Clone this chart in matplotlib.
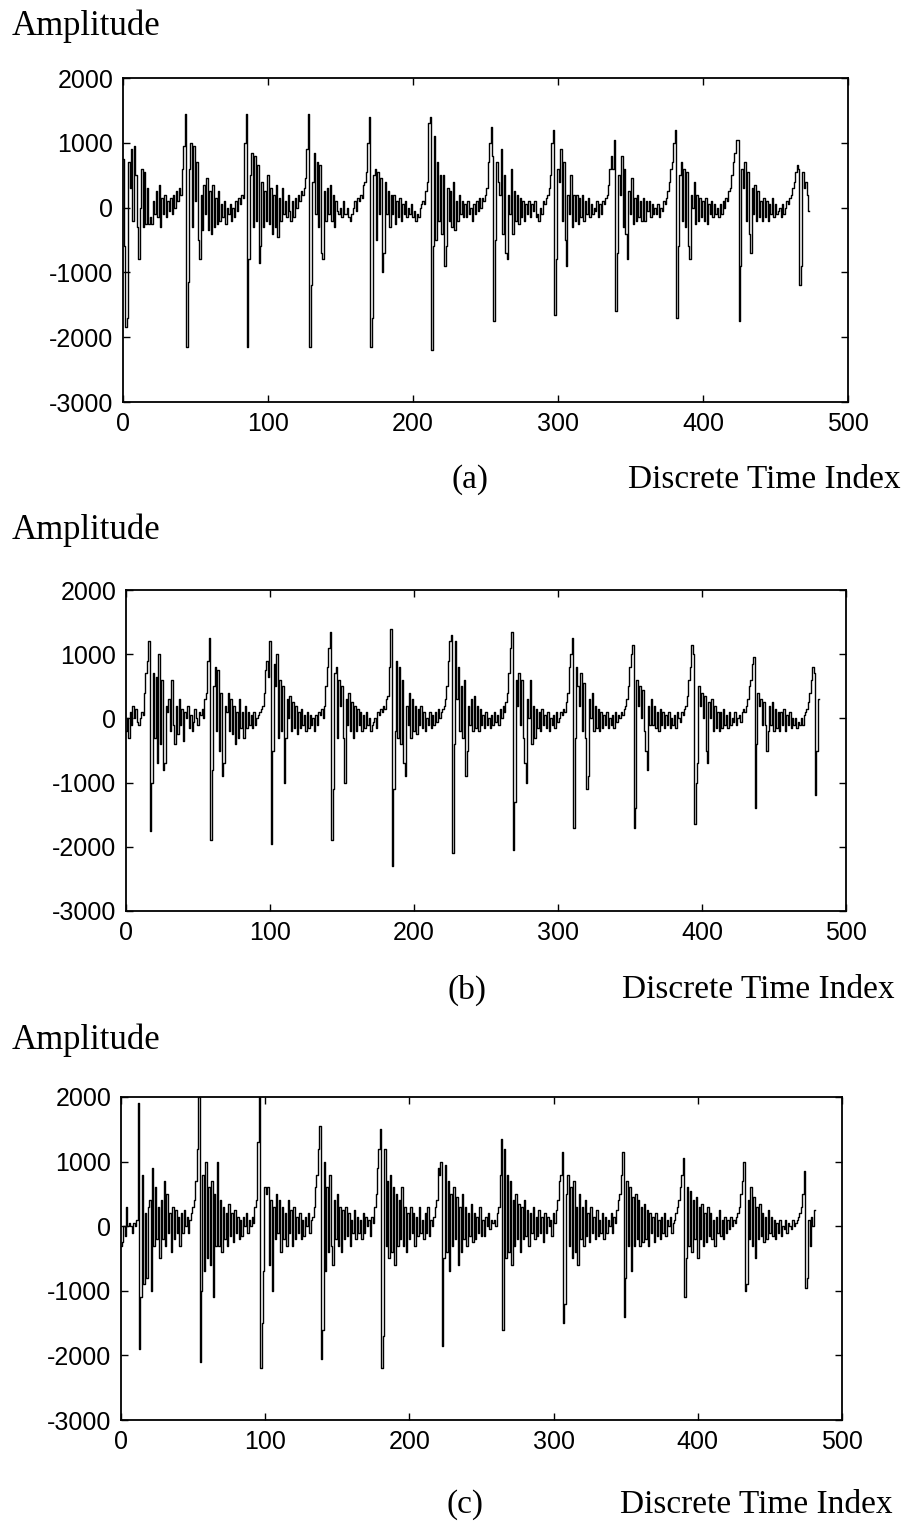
import numpy as np
import matplotlib
matplotlib.use("Agg")
import matplotlib.pyplot as plt

plt.rcParams['axes.unicode_minus'] = False

# signal (a): samples, one pitch period per block
sig_a = [750, -600,
    -1850, -1700, 700, 300, 900, -200, 950, 500, -300, -800, 0, 600, -300, 550,
    -250, 300, -250, -150, -250, 100, -100, 250, -150, 350, -300, 150, -100, 200,
    -150, 100, -50, 150, -100, 200, 0, 250, 100, 300, 200, 600, 950, 1450,
    -2150, -1150, 600, 1000, -300, 950, 100, 700, -500, -800, 200, -350, 350, -100,
    450, -350, 250, -400, 350, -300, 150, -250, 250, -200, 50, -150, 100, -250,
    0, -100, 50, -200, 0, -150, 100, -50, 150, 50, 200, 150, 1000, 1450,
    -2150, -800, 500, 850, -300, 800, -200, 650, -850, -600, 400, -300, 250, -200,
    500, -250, 300, -400, 200, -300, 350, -450, 150, -200, 300, -100, 100, -150,
    200, -50, -200, 100, -150, 150, 0, 200, 100, 250, 200, 300, 450, 900, 1450,
    -2150, -1200, 400, 850, -100, 700, -300, 650, -700, -800, 250, -200, 300, -100,
    350, -200, 200, -300, 100, -50, -100, 0, -150, 100, -100, -100, 0, -150,
    -200, -100, 0, 100, -50, 150, 100, 200, 150, 350, 400, 550, 1000, 1400,
    -2150, -1700, 500, 600, -500, 550, -100, 450, -1000, -700, 400, -100, 250, -300,
    200, -100, 200, -250, 100, -150, 150, -200, 50, -100, 100, -150, 0, -100,
    50, -150, -50, -200, -100, -150, 0, 50, 100, 50, 250, 400, 1300, 1400,
    -2200, -600, 1100, -500, 700, -200, 500, -400, 500, -900, -600, 300, -200, 250,
    -300, 400, -350, 100, -200, 200, -100, 100, -150, 50, -150, 100, -100, 0,
    -200, 50, -100, 100, -50, 150, 0, 150, 100, 200, 300, 700, 1000, 1250, 800,
    -1750, -500, 700, 400, 200, 900, -400, 500, -700, -800, 200, -100, 600, -400,
    250, -200, 200, -250, 150, -150, 100, -200, 50, -100, 100, -150, 50, -50,
    100, -150, -100, -200, 0, -100, 100, 50, 150, 200, 300, 500, 1000, 1200,
    -1650, -800, 600, 400, 900, -200, 700, -500, -900, 200, -100, 500, -300, 200,
    -200, 200, -250, 150, -150, 200, -200, 100, -100, 150, -150, 50, -100, 0,
    -50, 100, -150, 50, -100, 100, 50, 150, 200, 350, 600, 800, 600, 1050,
    -1600, -700, 500, 200, 800, -300, 600, -400, -800, 250, -100, 450, -250, 150,
    -200, 200, -150, 100, -200, 150, -200, 100, -50, 100, -150, 50, -100, 0,
    -100, 50, -150, 0, -50, 100, 50, 150, 250, 400, 600, 700, 1000, 1200,
    -1700, -600, 500, 700, -200, 600, -300, 550, -600, -800, 200, 0, 400, -250,
    200, -200, 150, -150, 100, -200, 150, -250, 50, -100, 100, -150, 50, -100,
    0, -150, 50, -100, 100, 0, 150, 100, 250, 300, 500, 700, 850, 1050, 1050,
    -1750, -900, 600, 300, 700, -200, 550, -400, -700, 300, -100, 350, -200, 250,
    -150, 100, -200, 150, -150, 100, -200, 50, -100, 150, -150, 50, -100, -50,
    0, -150, 50, -100, 0, 100, 50, 150, 200, 300, 400, 550, 650, 600,
    -1200, -900, 550, 300, 400, 200, -50]

# signal (b)
sig_b = [-200, 0, -300, 100, -100, 200, 0, 150, -50, -100, 0, 100, 50, 400, 700, 900, 1200,
    -1750, -1000, 700, -300, 650, -700, 1000, -400, 600, -800, -700, 200, 100, 300,
    -200, 600, -100, -400, 200, -250, 300, -100, 150, -350, 100, 0, 200, -150,
    50, -200, -50, 150, 0, -100, 100, 50, 150, 0, 300, 400, 900, 1250,
    -1900, -800, 500, 800, -200, 750, -500, 400, -900, -700, 200, 100, 400, -200,
    300, -250, 200, -400, 100, -300, 300, -150, 100, -300, 200, -150, 100, -100,
    50, -150, 100, -100, 0, 50, 100, 150, 200, 400, 750, 900, 650, 1200,
    -1950, -500, 850, 500, 1000, -300, 600, -200, 500, -1000, -300, 300, 0, 350,
    -200, 250, -150, 200, -250, 100, -150, 150, -100, 50, -200, 100, -150, 50,
    -100, 0, -200, 50, -100, 100, 50, 150, 0, 200, 500, 800, 1100, 1350,
    -1900, -1100, 700, 800, -300, 600, 200, 500, -300, -1000, 300, -100, 400, -200,
    250, -300, 200, -200, 150, -100, 100, -200, 50, -150, 100, -100, 0, -200,
    -100, -50, 0, -150, 100, 50, 150, 100, 200, 150, 300, 350, 800, 1400,
    -2300, -1100, -200, 900, -300, 800, -400, 600, -700, -900, 200, -100, 400, -300,
    300, -200, 200, -250, 150, -100, 200, -150, 100, -200, 0, -100, 100, -150,
    50, -100, 100, -50, 150, 0, 100, 150, 200, 300, 500, 900, 1200, 1300,
    -2100, -400, 1200, 300, 800, -200, 500, -300, 600, -900, -500, 200, -100, 300,
    -200, 350, -150, 200, -200, 150, -100, 50, -150, 100, -100, 0, -150, 50,
    -100, 100, -50, 50, -100, 150, 0, 200, 100, 250, 400, 700, 1100, 1350,
    -2050, -1300, 600, 200, 700, -100, 600, -300, -700, -1000, 300, 0, 600, -400,
    200, -300, 150, -150, 100, -200, 150, -100, 50, -150, 100, -200, 0, -100,
    50, -150, 100, -50, 0, 100, 50, 150, 100, 250, 400, 800, 1000, 1250,
    -1700, -300, 800, 500, 200, 700, -200, 550, -300, -1100, -900, 300, 0, 400,
    -200, 200, -150, 150, -200, 100, -150, 50, -100, 100, -150, 0, -100, 50,
    -150, 100, -50, 50, 0, 100, 50, 150, 200, 300, 500, 800, 1000, 1150,
    -1700, -1400, 600, 200, 500, 0, 450, -200, -500, -800, 200, -100, 300, -100,
    200, -150, 100, -200, 150, -100, 100, -150, 50, -100, 100, -150, 0, -100,
    50, -150, 100, 0, -50, 100, 50, 150, 200, 350, 600, 800, 1150, 1000,
    -1650, -1000, -700, 500, 200, 400, 0, 350, -500, -700, 250, 0, 300, -200,
    200, -150, 100, -200, 100, -150, 150, -100, 50, -150, 100, -100, 0, -50,
    100, -100, 0, 50, -50, 100, 150, 100, 200, 300, 500, 600, 850, 950,
    -1400, -400, 400, 200, 300, -100, 250, -100, -500, -200, 200, -100, 250, -200,
    150, -150, 100, -200, 100, -100, 150, -200, 50, -100, 100, -150, 0, -100,
    0, -150, -50, -100, 0, -100, 50, 100, 150, 250, 400, 600, 800, 700,
    -1200, -500, 300]

# signal (c)
sig_c = [-300, -250, 0, -150, 300, 0, 50, 0, -100, 50, 0, 100, 1900,
    -1900, -1100, 800, -900, 200, -800, 300, 400, -1000, 900, -300, 600, -200, 300,
    -500, 400, -200, 700, -300, 500, -100, 200, -400, 300, -200, 250, -100, 150,
    -300, 200, -100, 250, 0, 150, -100, 100, 200, 300, 400, 700, 1200, 2000,
    -2100, -1000, 800, -700, 1000, -500, 600, -600, 700, -1100, 500, -300, 1000, -300,
    400, -400, 300, -200, 200, -300, 350, -150, 200, -250, 250, -100, 150, -200,
    100, -150, 150, 0, 200, -100, 100, 0, 150, 50, 300, 400, 1300, 2000,
    -2200, -1500, -700, 600, 500, 600, -600, 400, -1000, 300, -200, 500, -100, 400,
    -400, 300, -200, 200, -300, 400, -100, 250, -300, 300, -200, 150, -100, 200,
    -200, 100, -150, 150, 0, 200, -100, 100, 150, 300, 600, 800, 1200, 1550,
    -2050, -1600, 1000, -700, 600, -400, 800, -300, -600, 400, -200, 500, -300, 300,
    -400, 250, -200, 300, -150, 200, -300, 100, -100, 250, -200, 150, -100, 100,
    -200, 200, -100, 150, 0, 100, -150, 150, 50, 300, 500, 900, 1200, 1500,
    -2200, -1700, 1200, -300, 700, -500, 800, -400, 600, -600, 500, -300, 400, -200,
    600, -300, 300, -400, 200, -200, 300, -100, 200, -300, 150, -150, 300, -100,
    100, -200, 200, -100, 300, -150, 100, 0, 150, 300, 400, 900, 800, 1000,
    -1850, -500, 950, -400, 700, -700, 500, -300, 600, -200, 450, -600, 300, -400,
    500, -200, 300, -300, 200, -150, 350, -250, 200, -200, 150, -100, 300, -150,
    100, -150, 150, 0, 200, -50, 100, 50, 100, 0, 200, 300, 800, 1350,
    -1600, 1200, -500, 800, -400, 700, -600, 400, -300, 500, -200, 350, -400, 300,
    -200, 400, -150, 250, -300, 200, -100, 300, -200, 150, -150, 250, -100, 150,
    -250, 200, -100, 150, 0, 100, -150, 200, 50, 250, 400, 700, 800, 1150,
    -1500, -1200, 500, 800, -300, 600, -500, 700, -400, 300, -600, 500, -200, 300,
    -300, 400, -150, 200, -250, 300, -100, 150, -200, 250, -150, 100, -100, 200,
    -200, 150, -100, 100, 0, 200, -100, 150, 50, 250, 400, 500, 800, 1150,
    -1400, -800, 700, -300, 600, -700, 450, -300, 500, -200, 400, -300, 300, -250,
    350, -200, 250, -300, 200, -100, 150, -250, 200, -150, 100, -200, 150, -100,
    200, -150, 100, 0, 150, -100, 50, 100, 200, 300, 400, 600, 800, 1050,
    -1100, -500, 600, -300, 550, -400, 400, -200, 450, -500, 300, -200, 350, -300,
    200, -250, 300, -150, 200, -200, 100, -300, 150, -100, 250, -150, 100, -200,
    150, -100, 100, -50, 150, 0, 100, 50, 150, 200, 300, 500, 700, 1000,
    -1000, -900, 400, -200, 600, -300, 450, -500, 300, -200, 350, -150, 200, -250,
    150, -200, 250, -100, 150, -150, 100, -200, 50, -100, 100, -150, 0, -50,
    100, -100, 50, 0, -50, 100, 0, 50, 100, 150, 200, 300, 500, 850,
    -950, -800, 100, -300, 150, 0, 250]

signals = [sig_a, sig_b, sig_c]
panel_tags = ["(a)", "(b)", "(c)"]
xticks = [0, 100, 200, 300, 400, 500]
yticks = [-3000, -2000, -1000, 0, 1000, 2000]

W, H = 914, 1536
fig = plt.figure(figsize=(W / 100, H / 100), dpi=100)

# axes boxes in pixels: left, right, top, bottom
boxes = [(123, 848, 78, 402), (126, 846, 590, 911), (121, 842, 1097, 1420)]
amp_y = [26, 530, 1040]
tag_pos = [(470, 480), (467, 990), (465, 1505)]
idx_x = [628, 622, 620]

for sig, tag, box, ay, tp, ix in zip(signals, panel_tags, boxes, amp_y, tag_pos, idx_x):
    l, r, t, b = box
    ax = fig.add_axes([l / W, 1 - b / H, (r - l) / W, (b - t) / H])
    # stair look of the scanned plot
    ax.plot(np.arange(len(sig)), sig, color="black", lw=1.0, drawstyle="steps-mid")
    ax.set_xlim(0, 500)
    ax.set_ylim(-3000, 2000)
    ax.set_xticks(xticks)
    ax.set_yticks(yticks)
    ax.tick_params(direction="in", top=True, right=True, length=5, width=1,
                   labelsize=18, pad=7)
    for lab in ax.get_xticklabels() + ax.get_yticklabels():
        lab.set_family("Liberation Sans")
    for sp in ax.spines.values():
        sp.set_linewidth(1.3)

    fig.text(12 / W, 1 - ay / H, "Amplitude", ha="left", va="center",
             family="Liberation Serif", fontsize=25)
    fig.text(tp[0] / W, 1 - tp[1] / H, tag, ha="center", va="center",
             family="Liberation Serif", fontsize=24)
    fig.text(ix / W, 1 - tp[1] / H, "Discrete Time Index", ha="left", va="center",
             family="Liberation Serif", fontsize=24)

fig.savefig("out.png", dpi=100)
